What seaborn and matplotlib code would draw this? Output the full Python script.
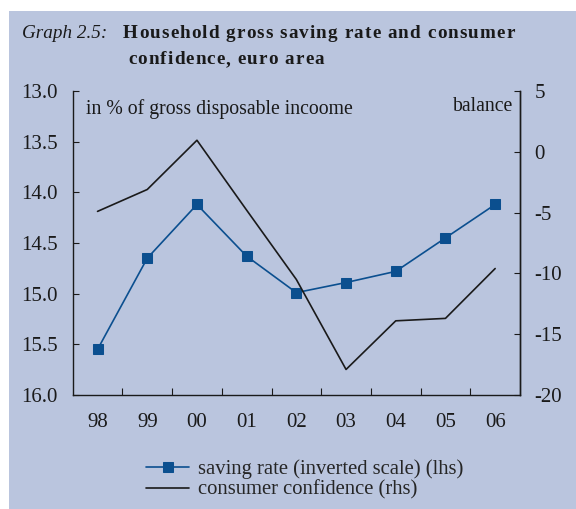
import numpy as np
import pandas as pd
import matplotlib
matplotlib.use("Agg")
import matplotlib.pyplot as plt
import seaborn as sns
from matplotlib.patches import Rectangle

# data
years = ["98", "99", "00", "01", "02", "03", "04", "05", "06"]
saving_rate = [15.55, 14.65, 14.12, 14.63, 14.99, 14.89, 14.78, 14.45, 14.12]
confidence = [-4.9, -3.1, 0.95, -4.8, -10.5, -17.9, -13.9, -13.7, -9.6]

df = pd.DataFrame({"year": years, "saving": saving_rate, "conf": confidence})

bg = "#bac5de"
blue = "#0b4f8f"
ink = "#1a1a1a"

sns.set_theme(style="ticks")
plt.rcParams["font.family"] = ["Liberation Serif", "DejaVu Serif"]
plt.rcParams["axes.unicode_minus"] = False

fig = plt.figure(figsize=(5.76, 5.09), dpi=100, facecolor="white")
# shaded panel behind the chart
fig.patches.append(Rectangle((9 / 576, 0), 1 - 9 / 576, 1 - 11 / 509,
                             transform=fig.transFigure, facecolor=bg,
                             edgecolor="none", zorder=-10))

ax = fig.add_axes([72.7 / 576, 1 - 395 / 509, (520 - 72.7) / 576, (395 - 91) / 509])
ax.set_facecolor(bg)
ax2 = ax.twinx()

sns.lineplot(data=df, x="year", y="saving", ax=ax, color=blue, marker="s",
             markersize=7.3, markeredgecolor=blue, linewidth=1.2,
             label="saving rate (inverted scale) (lhs)", legend=False)
sns.lineplot(data=df, x="year", y="conf", ax=ax2, color=ink,
             linewidth=1.2, label="consumer confidence (rhs)", legend=False)

# left axis inverted
ax.set_ylim(16.0, 13.0)
ax.set_yticks(np.arange(13.0, 16.01, 0.5))
ax.set_yticklabels([f"{v:.1f}" for v in np.arange(13.0, 16.01, 0.5)])
ax2.set_ylim(-20, 5)
ax2.set_yticks(np.arange(-20, 6, 5))
ax.set_xlim(-0.5, 8.5)

ax.set_xlabel("")
ax.set_ylabel("")
ax2.set_ylabel("")

ax.set_xticks(range(len(years)))
ax.set_xticklabels(years)
ax.set_xticks(np.arange(0.5, 8, 1), minor=True)
ax.tick_params(axis="x", which="major", length=0, pad=13, labelsize=15, labelcolor=ink)
ax.tick_params(axis="x", which="minor", direction="in", length=5, width=0.8, color=ink)
ax.tick_params(axis="y", direction="in", length=4, width=0.8, pad=11, labelsize=15,
               color=ink, labelcolor=ink)
ax2.tick_params(axis="y", direction="in", length=4, width=0.8, pad=10.5, labelsize=15,
                color=ink, labelcolor=ink)

for a in (ax, ax2):
    a.spines["top"].set_visible(False)
    for s in ("left", "right", "bottom"):
        a.spines[s].set_color(ink)
        a.spines[s].set_linewidth(1.0)
ax2.spines["left"].set_visible(False)
ax2.spines["bottom"].set_visible(False)

ax.text(0.03, 0.975, "in % of gross disposable incoome", transform=ax.transAxes,
        fontsize=14.2, ha="left", va="top", color=ink)
ax.text(0.985, 0.98, "balance", transform=ax.transAxes,
        fontsize=14.2, ha="right", va="top", color=ink)


# title, bold part drawn with a little letter spacing like the original
def spaced_text(x, y, s, track=1.1, **kw):
    renderer = fig.canvas.get_renderer()
    for i, ch in enumerate(s):
        t = fig.text(0, 0, s[:i], **kw)
        w = t.get_window_extent(renderer).width if i else 0
        t.remove()
        fig.text(x + (w + i * track) / 576, y, ch, **kw)


fig.text(22 / 576, 1 - 33 / 509, "Graph 2.5:", fontsize=13.8, style="italic",
         ha="left", va="center", color=ink)
spaced_text(123 / 576, 1 - 33 / 509, "Household gross saving rate and consumer",
            fontsize=13.8, weight="bold", ha="left", va="center", color=ink)
spaced_text(128 / 576, 1 - 60 / 509, "confidence, euro area",
            fontsize=13.8, weight="bold", ha="left", va="center", color=ink)

handles = [ax.get_lines()[0], ax2.get_lines()[0]]
fig.legend(handles, [h.get_label() for h in handles], loc="center left",
           bbox_to_anchor=(146 / 576, 1 - 479.5 / 509), frameon=False,
           fontsize=14.9, handlelength=2.1, handletextpad=0.4, labelspacing=0.08,
           borderaxespad=0, borderpad=0)

fig.savefig("out.png", dpi=100, facecolor="white")
